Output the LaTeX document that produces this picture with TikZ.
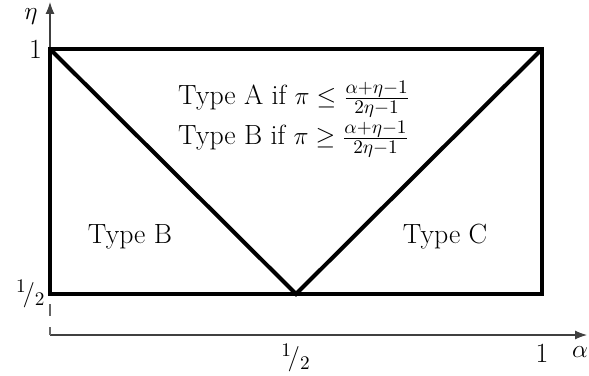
\documentclass[tikz,border=0pt]{standalone}
\usepackage{amsmath}
\usetikzlibrary{arrows.meta, positioning}

\begin{document}
\begin{tikzpicture}[
        axis/.style={black!75, line width=0.6pt, -{Latex[length=2.4mm, width=1.8mm]}},
        region/.style={line width=2.3pt, line join=miter},
        label/.style={font=\fontsize{15.8}{19}\selectfont, inner sep=1pt},
    ]
        \useasboundingbox (0,0) rectangle (11.78,7.5);

        % Axes
        \coordinate (origin) at (1.0,0.8);
        \coordinate (xend) at (11.74,0.8);
        \coordinate (yend) at (1.0,7.46);
        \coordinate (lowleft) at (1.0,1.62);
        \draw[axis] (origin) -- (xend);
        \draw[black!60, line width=0.6pt, dash pattern=on 6.5pt off 6.5pt, dash phase=2pt]
            (origin) -- (lowleft);
        \draw[axis] (lowleft) -- (yend);

        % Rectangle et triangle
        \coordinate (upleft) at (1.0,6.52);
        \coordinate (upright) at (10.84,6.52);
        \coordinate (lowright) at (10.84,1.62);
        \coordinate (apex) at (5.92,1.62);
        \draw[region] (lowleft) rectangle (upright);
        \draw[region] (upleft) -- (apex) -- (upright);

        % Graduations
        \node[label, left=0.12cm of upleft] (etaone) {1};
        \node[label, left=0.05cm of lowleft] (etahalf) {${}^{1}\!/{}_{2}$};
        \node[label, below=0.14cm of origin -| apex] (alphahalf) {${}^{1}\!/{}_{2}$};
        \node[label, below=0.14cm of origin -| lowright] (alphaone) {1};
        \node[label] (alpha) at (11.6,0.46) {$\alpha$};
        \node[label] (eta) at (0.62,7.16) {$\eta$};

        % Zones
        \node[label, align=left] (typeA) at (5.88,5.12)
            {Type A if $\pi \leq \frac{\alpha+\eta-1}{2\eta-1}$\\[1pt]
             Type B if $\pi \geq \frac{\alpha+\eta-1}{2\eta-1}$};
        \node[label] (typeB) at (2.6,2.76) {Type B};
        \node[label] (typeC) at (8.9,2.76) {Type C};
    \end{tikzpicture}
\end{document}
